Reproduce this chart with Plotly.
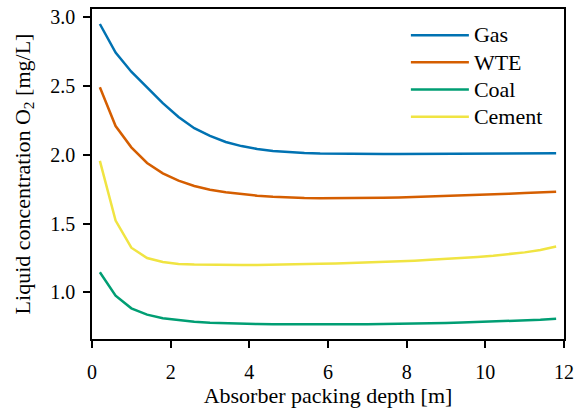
import plotly.graph_objects as go

# Packing depth grid [m]
depth = [0.2, 0.6, 1.0, 1.4, 1.8, 2.2, 2.6, 3.0, 3.4, 3.8, 4.2, 4.6, 5.0, 5.4, 5.8,
         6.2, 6.6, 7.0, 7.4, 7.8, 8.2, 8.6, 9.0, 9.4, 9.8, 10.2, 10.6, 11.0, 11.4, 11.8]

# Liquid O2 concentration [mg/L] per flue gas source
gas = [2.951, 2.743, 2.604, 2.491, 2.375, 2.275, 2.193, 2.137, 2.093, 2.063,
       2.042, 2.028, 2.019, 2.013, 2.009, 2.007, 2.006, 2.006, 2.006, 2.006,
       2.007, 2.007, 2.007, 2.008, 2.008, 2.009, 2.009, 2.010, 2.010, 2.011]
wte = [2.491, 2.209, 2.054, 1.940, 1.865, 1.812, 1.773, 1.746, 1.727, 1.713,
       1.702, 1.694, 1.688, 1.685, 1.684, 1.684, 1.685, 1.686, 1.688, 1.690,
       1.693, 1.696, 1.699, 1.703, 1.707, 1.712, 1.716, 1.721, 1.726, 1.731]
coal = [1.145, 0.975, 0.883, 0.837, 0.811, 0.796, 0.786, 0.779, 0.774, 0.771,
        0.769, 0.767, 0.766, 0.766, 0.766, 0.766, 0.767, 0.768, 0.769, 0.771,
        0.773, 0.775, 0.777, 0.780, 0.783, 0.786, 0.790, 0.795, 0.800, 0.807]
cement = [1.955, 1.521, 1.324, 1.249, 1.220, 1.206, 1.201, 1.199, 1.198, 1.198,
          1.199, 1.200, 1.202, 1.204, 1.207, 1.210, 1.213, 1.217, 1.221, 1.225,
          1.230, 1.236, 1.242, 1.249, 1.257, 1.266, 1.277, 1.290, 1.307, 1.333]

series = [
    ("Gas", gas, "#0072B2"),
    ("WTE", wte, "#D55E00"),
    ("Coal", coal, "#009E73"),
    ("Cement", cement, "#F0E442"),
]

FONT = "Times New Roman, Liberation Serif, serif"

fig = go.Figure()
for name, vals, color in series:
    # legend rows are sized by the legend font; the label itself is set a bit larger
    fig.add_trace(go.Scatter(x=depth, y=vals, mode="lines",
                             name=f'<span style="font-size:22px">{name}</span>',
                             line=dict(color=color, width=2.5)))

axis_common = dict(
    showline=True, linecolor="black", linewidth=1.6, mirror=True,
    ticks="outside", ticklen=7, tickwidth=1.6, tickcolor="black",
    showgrid=False, zeroline=False, automargin=False,
    tickfont=dict(family=FONT, size=20, color="black"),
)

fig.update_xaxes(range=[0, 12], tickvals=[0, 2, 4, 6, 8, 10, 12],
                 ticklabelstandoff=7,
                 title=dict(text="Absorber packing depth [m]",
                            font=dict(family=FONT, size=22, color="black"),
                            standoff=4),
                 **axis_common)
fig.update_yaxes(range=[0.66, 3.06], tickvals=[1.0, 1.5, 2.0, 2.5, 3.0],
                 tickformat=".1f", ticklabelstandoff=4,
                 title=dict(text="Liquid concentration O<sub>2</sub> [mg/L]",
                            font=dict(family=FONT, size=22, color="black"),
                            standoff=14),
                 **axis_common)

fig.update_layout(
    width=587, height=412,
    margin=dict(l=92, r=23, t=9, b=73),
    plot_bgcolor="white", paper_bgcolor="white",
    font=dict(family=FONT, color="black"),
    legend=dict(x=0.665, y=0.977, xanchor="left", yanchor="top",
                bgcolor="rgba(0,0,0,0)", borderwidth=0,
                font=dict(family=FONT, size=18.6, color="black"),
                itemwidth=58, tracegroupgap=0),
)

fig.write_html("out.html")
